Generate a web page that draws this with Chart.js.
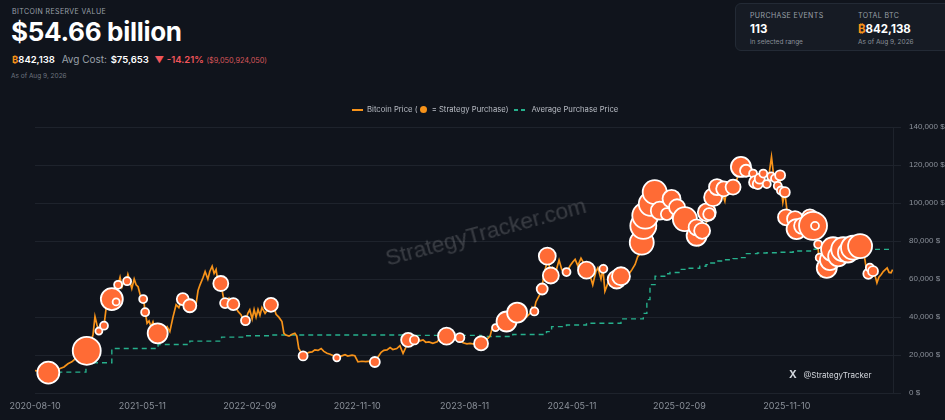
<!DOCTYPE html>
<html>
<head>
<meta charset="utf-8">
<script src="https://cdn.jsdelivr.net/npm/chart.js@4.4.1/dist/chart.umd.min.js"></script>
<style>
body{margin:0;background:#10141c;width:945px;height:420px;overflow:hidden;font-family:Inter,"Noto Sans",sans-serif;color:#fff;position:relative}
.abs{position:absolute;white-space:nowrap}
#wrap{position:absolute;left:0;top:0;width:945px;height:420px}
.lbl{font-size:7px;color:#9aa0a9;letter-spacing:0.4px}
.sub{font-size:6.5px;color:#6f7580}
.btc{color:#f7931a;font-weight:700}
#box{position:absolute;left:735px;top:3px;width:230px;height:46px;background:#161b24;border:1px solid #232a35;border-radius:6px}
#legend{position:absolute;top:105px;left:352px;font-size:7.7px;color:#b9bdc5;white-space:nowrap;display:flex;align-items:center}
#legend i{display:inline-block}
#wm{position:absolute;left:386px;top:246px;font-size:22.5px;color:rgba(255,255,255,0.17);transform:rotate(-15deg);transform-origin:left center;font-family:"Liberation Sans",Arial,sans-serif;white-space:nowrap}
</style>
</head>
<body>
<div class="abs lbl" style="left:12px;top:7px">BITCOIN RESERVE VALUE</div>
<div class="abs" style="left:11px;top:16px;font-size:26px;font-weight:700;letter-spacing:-0.3px">$54.66 billion</div>
<div class="abs" style="left:12px;top:53px;font-size:9.5px">
<span class="btc">&#8383;</span><span style="font-weight:600">842,138</span>
<span style="color:#9aa0a9;margin-left:4px;font-size:10px">Avg Cost:</span>
<span style="font-weight:600;margin-left:1px">$75,653</span>
<span style="color:#f0555a;margin-left:3px">&#9660;</span>
<span style="color:#f0555a;font-weight:600;margin-left:0px">-14.21%</span>
<span style="color:#d9565b;font-size:7.3px;margin-left:0px">($9,050,924,050)</span>
</div>
<div class="abs sub" style="left:11px;top:72px">As of Aug 9, 2026</div>

<div id="box"></div>
<div class="abs lbl" style="left:750px;top:11px">PURCHASE EVENTS</div>
<div class="abs" style="left:750px;top:22px;font-size:11.5px;font-weight:700">113</div>
<div class="abs sub" style="left:750px;top:38px;color:#8a909a">in selected range</div>
<div class="abs lbl" style="left:858px;top:11px">TOTAL BTC</div>
<div class="abs" style="left:858px;top:22px;font-size:11.5px;font-weight:700"><span class="btc">&#8383;</span>842,138</div>
<div class="abs sub" style="left:858px;top:38px;color:#8a909a">As of Aug 9, 2026</div>

<div id="wrap"><canvas id="btcChart"></canvas></div>

<div id="legend">
<i style="width:11px;height:2px;background:#f7931a;margin-right:4px"></i>Bitcoin Price (<i style="width:7px;height:7px;border-radius:50%;background:#f7931a;margin:0 3px 0 2px"></i>&nbsp;= Strategy Purchase)
<i style="width:13px;height:2px;margin:0 4px 0 6px;background:repeating-linear-gradient(90deg,#26b08c 0 4px,transparent 4px 7px)"></i>Average Purchase Price
</div>
<div id="wm">StrategyTracker.com</div>
<div class="abs" style="left:789px;top:368px;font-size:8px;color:#d3d7dd"><b style="font-size:10.5px">X</b>&nbsp;&nbsp;&nbsp;@StrategyTracker</div>

<script>
// days counted from 2020-08-10
let tickLabels = ["2020-08-10","2021-05-11","2022-02-09","2022-11-10","2023-08-11","2024-05-11","2025-02-09","2025-11-10"];
let tickStep = 274;

let priceDays = [0,13,26,33,43,54,64,74,84,94,105,115,125,133,140,148,153,158,163,168,176,181,186,191,196,202,207,212,217,222,227,232,237,242,247,253,258,263,268,273,277,281,286,291,296,301,306,314,321,329,337,344,352,360,367,375,383,390,395,403,411,416,421,429,434,441,446,452,457,462,467,474,482,487,495,503,510,518,526,533,538,543,548,554,559,564,569,574,579,587,594,602,610,615,622,630,635,640,648,656,663,668,673,679,684,691,699,707,714,722,730,737,745,753,760,770,781,791,798,809,816,824,834,844,855,867,875,883,890,898,906,913,923,931,939,946,952,959,967,974,982,990,997,1005,1015,1026,1036,1043,1051,1059,1066,1074,1084,1092,1102,1110,1120,1128,1138,1145,1153,1161,1166,1173,1181,1189,1196,1204,1212,1219,1227,1232,1240,1247,1255,1263,1268,1273,1278,1283,1288,1293,1298,1304,1307,1311,1316,1321,1329,1337,1344,1352,1357,1365,1372,1378,1385,1393,1401,1408,1416,1423,1431,1436,1444,1449,1454,1462,1469,1477,1485,1492,1500,1508,1515,1523,1531,1538,1543,1548,1554,1559,1564,1571,1579,1587,1594,1602,1610,1617,1625,1633,1640,1648,1656,1663,1671,1679,1686,1694,1702,1709,1717,1724,1732,1740,1747,1755,1760,1765,1773,1781,1788,1796,1804,1811,1819,1827,1834,1842,1849,1857,1865,1872,1879,1884,1890,1898,1903,1908,1913,1918,1924,1931,1939,1946,1954,1962,1969,1977,1985,1992,1997,2000,2004,2010,2018,2026,2033,2041,2049,2056,2064,2072,2079,2087,2095,2105,2113,2118,2123,2128,2133,2138,2143,2148,2153,2159,2164,2174,2179,2184,2188];
let priceValues = [11900,11500,11200,10800,11400,11800,13000,13800,15500,16500,18500,19200,19000,22300,26500,30600,40300,36000,32700,34000,35500,44000,48000,50000,49500,55000,57500,57000,61000,56000,59000,58000,62500,59000,55000,60000,57000,56000,52000,50000,49500,42600,36800,38000,35000,37500,34000,31500,34500,33000,35000,32400,40000,46500,45000,49500,47000,50000,46000,44000,47000,54000,57000,61000,64000,60000,64000,66800,63000,65000,58000,57700,49000,47400,50000,47000,46000,43000,41200,37000,38200,42000,43900,39000,44000,40000,44000,41000,45000,42000,44000,46500,45000,41500,40000,37700,31500,30600,30000,31000,31500,30000,23500,21500,19600,20500,21500,21700,22800,22500,23500,22000,21000,20500,19800,18600,19500,20200,19500,20000,19700,16500,16800,16600,16900,16400,19000,21500,22500,22800,24000,23000,23500,25000,20900,24000,28000,28500,28000,29500,27500,28000,26800,27000,26200,27000,30000,30500,30000,30200,29300,29500,29200,26500,26000,26200,25800,26800,26200,27500,28300,30000,34000,34500,35500,37000,37200,37700,42500,43000,42000,42400,40000,42500,40300,42000,45000,43000,48000,50000,52000,54800,62000,67000,72100,68000,61900,66000,64000,70000,65000,63000,63700,67000,69000,70400,67000,71000,68000,64700,62000,57000,64000,66000,60000,65400,53600,58000,59000,56000,59800,58000,61500,60000,62600,65000,67700,72000,73000,80000,88000,91000,97800,100000,96000,106600,96000,94000,95000,100000,103000,105000,98000,97000,95000,87000,86000,88000,84000,78000,83000,85400,94200,96000,103000,104000,108400,104000,101000,107500,105000,108400,110000,117000,119000,118000,117000,118000,115500,112000,112800,115500,110000,114000,124300,115500,112000,114600,109000,100400,105700,97000,93000,91000,91600,86300,88000,90000,93000,92500,88000,85000,78300,71300,62400,66000,65900,68000,70000,74000,72000,76000,73000,75000,76000,76500,78000,77400,75000,69500,62400,64000,63000,64200,62000,58000,61000,62400,64000,65900,63500,63300,65000];

let avgDays = [34,130,196,314,395,476,537,602,952,1138,1219,1305,1318,1356,1407,1495,1552,1561,1569,1582,1612,1620,1645,1660,1696,1712,1722,1739,1757,1781,1798,1815,1843,1867,1900,1934,1943,1985,2028,2062,2189];
let avgValues = [11100,16000,23500,25600,27400,29500,30200,30600,30400,29800,30900,32400,35000,35900,36800,39100,42000,49200,57100,61500,62800,63500,65100,65700,66800,67600,68500,69500,70200,70800,71300,73400,73700,73900,74100,74400,74800,75700,75300,75653,75653];

let buyDays = [34,132,163,176,196,207,212,235,276,281,313,377,395,474,485,506,537,602,684,770,867,952,968,1050,1084,1138,1175,1203,1230,1274,1294,1307,1316,1356,1407,1450,1484,1495,1548,1552,1557,1571,1581,1594,1612,1624,1638,1658,1688,1688,1702,1714,1720,1730,1740,1757,1781,1801,1814,1832,1837,1844,1849,1858,1867,1878,1888,1895,1901,1903,1913,1916,1939,1943,1957,1977,1985,1990,1998,2002,2020,2028,2036,2049,2062,2074,2087,2105,2126,2130,2138];
let buyPrices = [10800,22300,32700,35500,49500,48000,57000,58900,49500,42600,31500,49500,46000,57700,47400,46800,38200,46500,19600,18600,16400,28000,28000,30000,29200,26200,34500,37700,42400,43000,54800,72100,61900,63700,64700,65400,59800,61500,79200,88000,93400,99600,105700,96000,94200,102200,97800,91600,82800,87200,85400,95100,94200,103100,108400,107500,108400,119000,117000,115500,111000,110000,112800,115500,110000,114000,113000,109000,114600,106600,105700,92500,91600,86300,88000,92500,88000,88000,78300,71300,65900,70000,75700,72000,75700,74000,76500,77400,62800,66000,64200];
let buyBtc = [17100,31300,240,530,17100,240,530,530,530,530,13310,2900,3790,5920,1480,2900,950,4790,950,240,1480,4790,950,8520,950,4790,240,13310,13310,530,2130,8520,7160,530,8520,530,10000,10000,21360,26100,26100,21360,21360,10000,2900,10000,7160,21360,13310,7160,7160,10000,2900,10000,7160,5920,5920,13310,2900,530,2900,1480,1480,530,530,530,530,530,1480,530,1480,7160,7160,13310,7160,7160,31300,530,530,530,13310,13310,21360,13310,21360,13310,21360,21360,1480,530,1480];

function toPoints(xs,ys){
return xs.map((x,i)=>({x:x,y:ys[i]}));
}

function bubbleRadius(btc){
return 2.5 + Math.sqrt(btc)*0.065;
}

let ctx = document.getElementById("btcChart");

let chart = new Chart(ctx,{
type:'line',
data:{
datasets:[
{
type:'scatter',
label:'Purchases',
data:toPoints(buyDays,buyPrices),
backgroundColor:'#ff6b35',
borderColor:'#ffffff',
borderWidth:1.8,
pointRadius:c=>bubbleRadius(buyBtc[c.dataIndex]),
pointHoverRadius:c=>bubbleRadius(buyBtc[c.dataIndex]),
order:0
},
{
label:'Bitcoin Price',
data:toPoints(priceDays,priceValues),
borderColor:'#f7931a',
borderWidth:1.7,
pointRadius:0,
tension:0,
order:1
},
{
label:'Average Purchase Price',
data:toPoints(avgDays,avgValues),
borderColor:'#26b08c',
borderWidth:1.4,
borderDash:[5,4],
stepped:true,
pointRadius:0,
order:2
}
]
},
options:{
responsive:true,
maintainAspectRatio:false,
animation:false,
layout:{padding:{left:35,top:127,right:0,bottom:0}},
plugins:{
legend:{display:false},
tooltip:{enabled:false}
},
scales:{
x:{
type:'linear',
min:0,
max:2189,
grid:{display:false,drawTicks:false},
border:{display:false},
afterBuildTicks:s=>{
s.ticks = tickLabels.map((t,i)=>({value:i*tickStep}));
},
ticks:{
maxRotation:0,
autoSkip:false,
color:'#8b919a',
font:{size:9,family:'Inter'},
padding:8,
callback:(v,i)=>tickLabels[i]
}
},
y:{
position:'right',
min:0,
max:140000,
grid:{color:'#1e232c',lineWidth:1},
border:{display:true,color:'#1e232c'},
ticks:{
stepSize:20000,
color:'#8b919a',
font:{size:8,family:'Liberation Sans'},
padding:8,
callback:v=>v.toLocaleString('en-US')+' $'
},
afterFit:s=>{s.width=52;}
}
}
}
});
</script>
</body>
</html>
